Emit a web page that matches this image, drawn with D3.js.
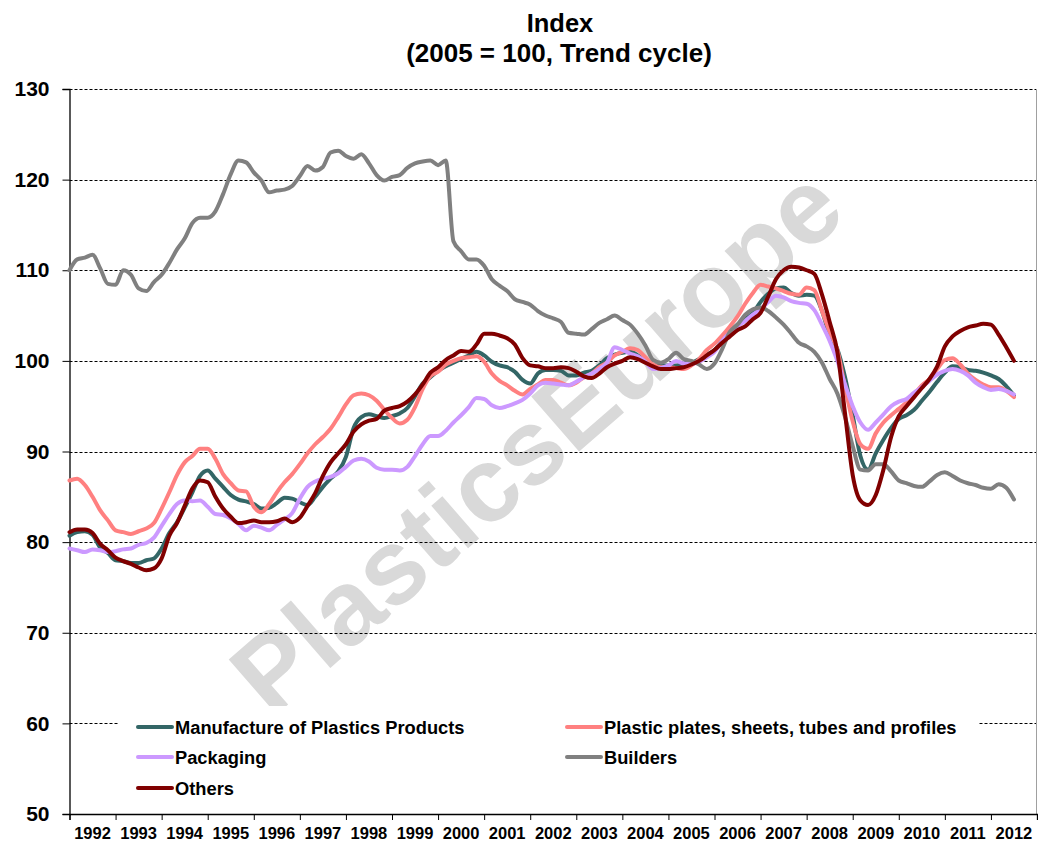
<!DOCTYPE html>
<html><head><meta charset="utf-8">
<script src="https://cdn.jsdelivr.net/npm/d3@7"></script>
<style>
body{margin:0;background:#fff}
svg{display:block}
text{font-family:"Liberation Sans",Arial,Helvetica,sans-serif;font-weight:bold}
</style>
</head><body>
<svg id="chart" width="1038" height="843"></svg>
<script>
// ---------- data ----------
const titleLines = ["Index", "(2005 = 100, Trend cycle)"];
const yearLabels = d3.range(1992, 2013);          // 1992 ... 2012
const yTickValues = [50, 60, 70, 80, 90, 100, 110, 120, 130];
const firstYear = 1992;
const stepMonths = 2;                               // one value every two months, Jan 1992 .. Jul 2012
const seriesNames = ["Manufacture of Plastics Products", "Plastic plates, sheets, tubes and profiles", "Packaging", "Builders", "Others"];
const seriesColors = ["#336666", "#FF8080", "#CC99FF", "#808080", "#800000"];

const manufacture = [
80.7,81.1,81.2,80.8,79.4,78.8,78.0,77.9,77.7,77.7,78.0,78.2,79.3,81.0,82.2,83.8,85.5,87.3,87.9,87.0,
86.1,85.2,84.7,84.5,84.2,83.7,83.8,84.3,84.9,84.8,84.4,84.1,85.0,86.1,87.0,87.8,89.4,92.6,93.8,94.1,
93.9,93.7,93.9,94.2,94.8,96.1,97.5,98.2,98.9,99.4,99.8,100.2,100.6,101.0,100.6,99.9,99.5,99.3,98.8,97.9,
97.5,98.6,99.0,99.0,98.9,98.4,98.4,98.7,98.9,99.5,100.3,100.7,100.9,101.0,100.6,99.9,99.5,99.5,99.5,99.5,
99.7,99.8,100.2,100.7,101.2,102.2,103.2,104.0,104.6,105.3,106.5,107.4,108.0,108.1,107.5,107.2,107.3,107.2,105.5,102.8,
101.3,98.2,94.0,89.5,88.0,89.8,91.3,92.6,93.6,94.0,94.6,95.6,96.6,97.7,98.7,99.4,99.3,99.0,98.9,98.7,
98.4,98.0,97.2,96.2];

const plates = [
86.8,87.0,86.3,85.0,83.5,82.4,81.3,81.1,80.9,81.2,81.5,82.1,83.7,85.5,87.4,88.8,89.5,90.3,90.3,89.2,
87.5,86.5,85.7,85.6,83.9,83.3,84.2,85.5,86.6,87.5,88.6,89.8,90.8,91.6,92.5,93.8,95.2,96.2,96.4,96.2,
95.6,94.6,93.7,93.1,93.5,94.9,96.9,98.3,98.8,99.6,100.0,100.3,100.4,100.5,99.9,98.6,97.8,97.3,96.7,96.3,
96.9,97.4,97.9,97.9,97.6,97.3,97.6,98.2,98.6,99.3,99.8,100.6,101.0,101.4,101.2,100.4,99.6,99.3,99.3,99.2,
99.1,99.5,100.2,101.2,101.9,102.8,103.8,104.9,106.3,107.5,108.4,108.2,108.0,107.7,107.4,107.3,108.1,107.8,105.5,103.2,
101.2,97.1,93.3,90.8,90.3,92.0,93.2,94.0,94.7,95.4,96.3,97.3,98.0,99.1,100.1,100.3,99.6,98.6,97.9,97.4,
97.1,97.1,96.7,96.0];

const packaging = [
79.3,79.1,78.9,79.2,79.1,78.9,79.0,79.2,79.3,79.7,79.9,80.5,81.8,83.1,84.2,84.6,84.5,84.6,83.9,83.1,
83.0,82.6,82.0,81.3,81.8,81.6,81.3,81.9,82.5,83.2,84.8,86.1,86.7,87.0,87.2,87.6,88.3,89.0,89.2,88.9,
88.2,88.0,88.0,87.9,88.3,89.5,90.8,91.7,91.7,92.3,93.2,94.0,94.9,95.9,95.8,95.1,94.8,95.0,95.3,95.7,
96.4,97.3,97.6,97.5,97.4,97.3,97.7,98.2,98.6,99.1,99.8,101.5,101.2,100.8,100.5,99.9,99.1,99.2,99.5,100.0,
99.7,99.7,99.9,100.4,101.0,102.2,103.1,103.8,104.4,105.1,105.7,106.5,107.2,107.0,106.6,106.4,106.3,105.6,104.0,102.2,
100.0,97.4,95.0,93.2,92.4,93.2,94.1,95.0,95.5,95.8,96.5,97.1,97.8,98.5,98.9,99.1,98.9,98.4,97.6,97.1,
96.8,96.9,96.7,96.3];

const builders = [
110.0,111.2,111.4,111.7,110.2,108.5,108.4,110.0,109.5,108.0,107.7,108.7,109.5,110.8,112.3,113.5,115.2,115.8,115.8,116.5,
118.4,120.6,122.1,121.9,120.8,119.9,118.6,118.8,118.9,119.3,120.4,121.5,121.0,121.4,123.0,123.2,122.6,122.3,122.8,121.8,
120.5,119.9,120.3,120.5,121.3,121.8,122.0,122.1,121.6,122.1,113.2,112.1,111.2,111.2,110.5,109.0,108.3,107.7,106.8,106.5,
106.2,105.5,105.0,104.7,104.3,103.1,103.0,102.9,103.5,104.2,104.6,105.0,104.5,104.0,103.0,101.7,100.1,99.8,100.2,100.9,
100.2,100.0,99.6,99.1,99.7,101.3,103.2,104.0,105.1,105.7,105.9,105.5,104.8,104.0,103.0,102.0,101.6,101.0,99.8,98.0,
96.4,93.8,90.6,88.0,87.9,88.6,88.6,87.8,86.8,86.5,86.2,86.1,86.7,87.4,87.7,87.3,86.8,86.5,86.3,86.0,
85.9,86.4,86.0,84.7];

const others = [
81.1,81.4,81.4,81.0,79.8,79.1,78.3,77.9,77.6,77.2,76.9,77.1,78.2,80.7,82.1,84.0,85.9,86.8,86.6,85.0,
83.7,82.8,82.1,82.2,82.4,82.2,82.2,82.3,82.6,82.2,82.7,84.0,85.4,87.3,88.8,89.8,90.8,92.2,93.0,93.4,
93.6,94.5,94.8,95.0,95.5,96.3,97.4,98.7,99.3,100.1,100.6,101.1,101.0,101.8,103.0,103.0,102.8,102.5,101.8,100.3,
99.5,99.4,99.2,99.2,99.3,99.2,98.8,98.3,98.1,98.6,99.3,99.7,100.0,100.4,100.2,99.8,99.4,99.1,99.1,99.2,
99.3,99.6,100.0,100.6,101.2,102.0,102.7,103.4,103.8,104.6,105.3,107.1,109.0,110.0,110.4,110.3,110.0,109.6,107.3,104.3,
101.0,94.2,87.4,84.6,84.1,85.2,88.0,91.6,93.9,95.0,96.0,97.0,98.0,99.4,101.6,102.7,103.3,103.7,103.9,104.1,
104.0,102.9,101.5,100.0];

const seriesValues = [manufacture, plates, packaging, builders, others];

// ---------- layout ----------
const svg = d3.select("#chart");
const W = 1038, H = 843;
const plot = {left: 69.5, right: 1037, top: 89, bottom: 814};
const font = '"Liberation Sans",Arial,Helvetica,sans-serif';

svg.append("rect").attr("width", W).attr("height", H).attr("fill", "#fff");

const x = d3.scaleLinear().domain([firstYear, firstYear + yearLabels.length]).range([plot.left, plot.right]);
const y = d3.scaleLinear().domain([50, 130]).range([plot.bottom, plot.top]);

// title
svg.append("text").attr("x", 560).attr("y", 32).attr("text-anchor", "middle")
  .attr("font-size", 25.5).text(titleLines[0]);
svg.append("text").attr("x", 559).attr("y", 62).attr("text-anchor", "middle")
  .attr("font-size", 26).text(titleLines[1]);

// watermark
svg.append("text")
  .attr("transform", "translate(536,440) rotate(-41)")
  .attr("text-anchor", "middle").attr("dominant-baseline", "central")
  .attr("font-size", 106).attr("fill", "#d9d9d9")
  .text("PlasticsEurope");

// gridlines
svg.append("g").selectAll("line").data(yTickValues.filter(v => v > 50)).join("line")
  .attr("x1", plot.left).attr("x2", plot.right)
  .attr("y1", d => Math.round(y(d)) + 0.5).attr("y2", d => Math.round(y(d)) + 0.5)
  .attr("stroke", "#000").attr("stroke-width", 1).attr("stroke-dasharray", "3,2");

// right border of plot area
svg.append("line").attr("x1", plot.right - 0.5).attr("x2", plot.right - 0.5)
  .attr("y1", plot.top).attr("y2", plot.bottom).attr("stroke", "#a0a0a0").attr("stroke-width", 1);

// y axis
const yAxis = d3.axisLeft(y).tickValues(yTickValues).tickSize(7).tickPadding(13).tickFormat(d3.format("d"));
const gy = svg.append("g").attr("transform", `translate(${plot.left},0)`).call(yAxis);
gy.select(".domain").attr("stroke", "#000").attr("stroke-width", 1.3);
gy.selectAll(".tick line").attr("stroke", "#000");
gy.selectAll(".tick text").attr("font-family", font).attr("font-weight", "bold").attr("font-size", 21).attr("fill", "#000");

// x axis (ticks at year boundaries, labels centred within each year)
const xAxis = d3.axisBottom(x).tickValues(d3.range(firstYear, firstYear + yearLabels.length + 1)).tickSize(6).tickFormat("");
const gx = svg.append("g").attr("transform", `translate(0,${plot.bottom})`).call(xAxis);
gx.select(".domain").attr("stroke", "#000").attr("stroke-width", 1.3);
gx.selectAll(".tick line").attr("stroke", "#000");
svg.append("g").selectAll("text").data(yearLabels).join("text")
  .attr("x", d => x(d + 0.5)).attr("y", 839).attr("text-anchor", "middle")
  .attr("font-size", 16.5).attr("fill", "#000").text(d => d);

// series
const line = d3.line()
  .x((d, i) => x(firstYear + i * stepMonths / 12))
  .y(d => y(d))
  .curve(d3.curveMonotoneX);
svg.append("g").selectAll("path").data(seriesValues).join("path")
  .attr("d", d => line(d))
  .attr("fill", "none")
  .attr("stroke", (d, i) => seriesColors[i])
  .attr("stroke-width", 4)
  .attr("stroke-linejoin", "round").attr("stroke-linecap", "round");

// legend
const lg = svg.append("g");
lg.append("rect").attr("x", 118).attr("y", 706).attr("width", 860).attr("height", 96).attr("fill", "#fff");
const legendPos = [
  {x: 138, y: 727}, {x: 567, y: 727},
  {x: 138, y: 757}, {x: 567, y: 757},
  {x: 138, y: 788}
];
seriesNames.forEach((name, i) => {
  const p = legendPos[i];
  lg.append("line").attr("x1", p.x).attr("x2", p.x + 34).attr("y1", p.y).attr("y2", p.y)
    .attr("stroke", seriesColors[i]).attr("stroke-width", 4).attr("stroke-linecap", "round");
  lg.append("text").attr("x", p.x + 37).attr("y", p.y + 6.5)
    .attr("font-size", 18.3).attr("fill", "#000").text(name);
});
</script>
</body></html>
